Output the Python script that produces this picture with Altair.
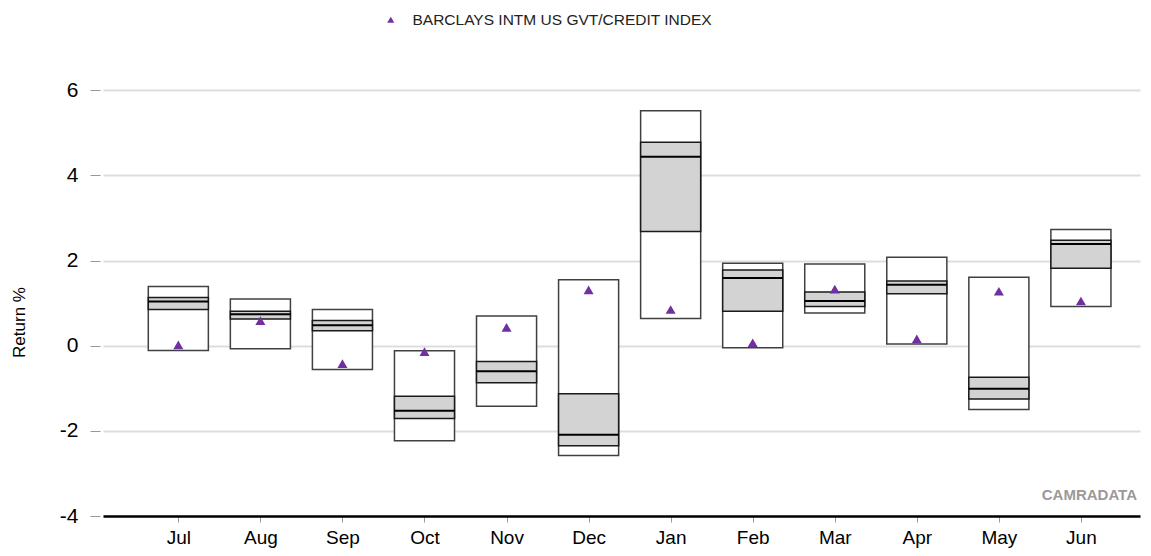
import altair as alt
import pandas as pd

months = ["Jul", "Aug", "Sep", "Oct", "Nov", "Dec", "Jan", "Feb", "Mar", "Apr", "May", "Jun"]
max_v = [1.39, 1.10, 0.85, -0.12, 0.70, 1.55, 5.52, 1.94, 1.92, 2.08, 1.61, 2.73]
upper_q = [1.13, 0.81, 0.59, -1.19, -0.37, -1.13, 4.78, 1.78, 1.26, 1.52, -0.74, 2.48]
median_v = [1.04, 0.74, 0.48, -1.53, -0.60, -2.09, 4.44, 1.59, 1.05, 1.43, -1.01, 2.39]
lower_q = [0.85, 0.63, 0.35, -1.71, -0.87, -2.35, 2.68, 0.81, 0.92, 1.22, -1.25, 1.82]
min_v = [-0.11, -0.07, -0.56, -2.23, -1.42, -2.58, 0.64, -0.05, 0.77, 0.04, -1.50, 0.92]
index_v = [0.02, 0.59, -0.42, -0.14, 0.43, 1.31, 0.85, 0.07, 1.33, 0.16, 1.28, 1.05]
y_ticks = [-4, -2, 0, 2, 4, 6]
series_name = "BARCLAYS INTM US GVT/CREDIT INDEX"

half = 0.366
df = pd.DataFrame({
    "i": list(range(len(months))),
    "month": months,
    "max": max_v, "upper": upper_q, "median": median_v,
    "lower": lower_q, "min": min_v, "index": index_v,
})
df["x1"] = df["i"] - half
df["x2"] = df["i"] + half
df["series"] = series_name

FONT = "Liberation Sans"
label_expr = "[" + ",".join("'%s'" % m for m in months) + "][datum.value]"

xscale = alt.Scale(domain=[-0.918, 11.72], nice=False, zero=False)
yscale = alt.Scale(domain=[-4, 6.5], nice=False, zero=False)

x_axis = alt.Axis(values=list(range(12)), labelExpr=label_expr, title=None,
                  grid=False, domainColor="#000000", domainWidth=2.5,
                  tickColor="#999999", tickSize=6, tickWidth=1,
                  labelFontSize=19, labelColor="#000000", labelFont=FONT,
                  labelPadding=6)
y_axis = alt.Axis(values=y_ticks, labelExpr="datum.value + ''", title="Return %",
                  grid=True, gridColor="#dddddd", gridWidth=2, domain=False,
                  tickColor="#999999", tickSize=10, tickWidth=1, offset=3,
                  labelFontSize=21, labelColor="#000000", labelFont=FONT,
                  labelPadding=12, titleFont=FONT, titleFontSize=17,
                  titleFontWeight="normal", titleColor="#000000",
                  titleX=-81, titleY=253, titleAlign="center",
                  titleBaseline="middle")

base = alt.Chart(df)

outer = base.mark_rect(fill="white", stroke="#404040", strokeWidth=1.5).encode(
    x=alt.X("x1:Q", scale=xscale, axis=x_axis),
    x2="x2:Q",
    y=alt.Y("max:Q", scale=yscale, axis=y_axis),
    y2="min:Q",
)
inner = base.mark_rect(fill="#d3d3d3", stroke="#1a1a1a", strokeWidth=1.5).encode(
    x=alt.X("x1:Q", scale=xscale),
    x2="x2:Q",
    y=alt.Y("upper:Q", scale=yscale),
    y2="lower:Q",
)
med = base.mark_rule(color="#000000", strokeWidth=2).encode(
    x=alt.X("x1:Q", scale=xscale),
    x2="x2:Q",
    y=alt.Y("median:Q", scale=yscale),
)
pts = base.mark_point(shape="triangle-up", filled=True, size=100, opacity=1).encode(
    x=alt.X("i:Q", scale=xscale),
    y=alt.Y("index:Q", scale=yscale),
    color=alt.Color("series:N", scale=alt.Scale(domain=[series_name], range=["#7030a0"]),
                    legend=alt.Legend(title=None, orient="none", legendX=280, legendY=-57,
                                      symbolType="triangle-up", symbolSize=50,
                                      labelFont=FONT, labelFontSize=15.5, labelLimit=0,
                                      labelColor="#222222", labelOffset=14)),
)
watermark = alt.Chart(pd.DataFrame({"t": ["CAMRADATA"]})).mark_text(
    align="right", baseline="middle", font=FONT, fontSize=15, fontWeight="bold",
    color="#9a9a9a").encode(x=alt.value(1034), y=alt.value(426), text="t:N")

chart = alt.layer(outer, inner, med, pts, watermark).properties(
    width=1037, height=447,
    autosize=alt.AutoSizeParams(type="none"),
    padding={"left": 95, "top": 61, "right": 3, "bottom": 32},
).configure_view(stroke=None)

chart.save("out.html", embed_options={"renderer": "svg", "actions": False})
